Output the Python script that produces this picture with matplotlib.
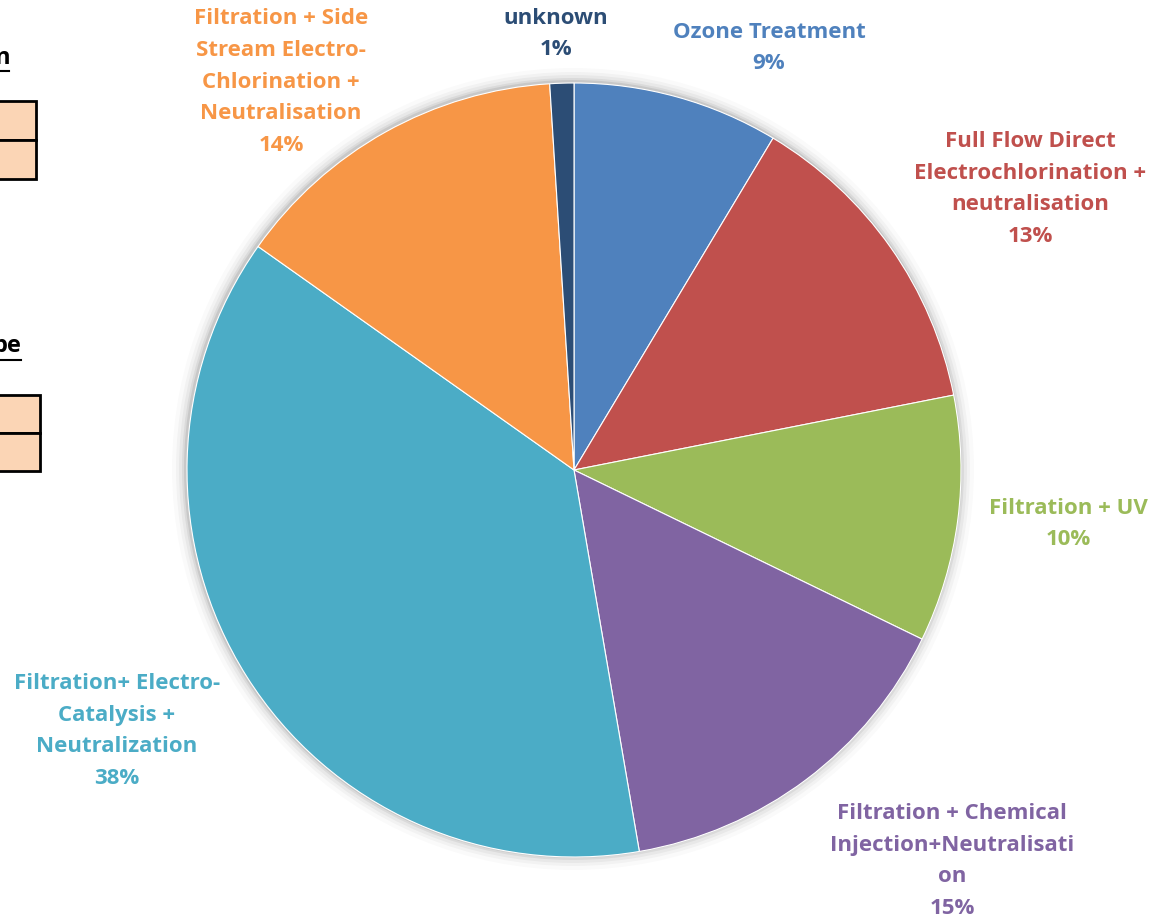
import matplotlib
matplotlib.use("Agg")
import matplotlib.pyplot as plt
from matplotlib.patches import Circle, Rectangle

categories = [
    "Ozone Treatment",
    "Full Flow Direct\nElectrochlorination +\nneutralisation",
    "Filtration + UV",
    "Filtration + Chemical\nInjection+Neutralisati\non",
    "Filtration+ Electro-\nCatalysis +\nNeutralization",
    "Filtration + Side\nStream Electro-\nChlorination +\nNeutralisation",
    "unknown",
]
values = [8.6, 13.3, 10.3, 15.1, 37.5, 14.2, 1.0]
colors = ["#4F81BD", "#C0504D", "#9BBB59", "#8064A2", "#4BACC6", "#F79646", "#2C4D75"]

W, H = 1163, 919
fig = plt.figure(figsize=(W / 100, H / 100), dpi=100)
ax = fig.add_axes([0, 0, 1, 1])

cx, cy, r = 574, H - 470, 387

# soft shadow
for k, a in [(14, 0.02), (10, 0.03), (7, 0.04), (4, 0.06), (2, 0.08)]:
    ax.add_patch(Circle((cx - 1, cy + 1), r + k, color="black", alpha=a, lw=0, zorder=0))

ax.pie(values, colors=colors, startangle=90, counterclock=False,
       center=(cx, cy), radius=r, frame=True,
       wedgeprops=dict(edgecolor="white", linewidth=0.8))
ax.set_xlim(0, W)
ax.set_ylim(0, H)
ax.set_aspect("equal")
ax.axis("off")

label_pos = [(769, 48), (1030, 189), (1068, 524), (952, 861), (117, 731), (281, 82), (556, 34)]
for cat, v, col, (x, y) in zip(categories, values, colors, label_pos):
    ax.text(x, H - y, f"{cat}\n{v:.0f}%", ha="center", va="center", color=col,
            fontsize=16, fontweight="bold", family="Open Sans", linespacing=1.68)

# partial table fragments on the left edge
fig.text(10 / W, 1 - 58 / H, "n", ha="right", va="center", fontsize=17,
         fontweight="bold", family="Open Sans", color="black")
ax.plot([0, 9], [H - 71, H - 71], color="black", lw=1.5)
for (x0, y0, w, h) in [(0, 101, 36, 39), (0, 140, 36, 39)]:
    ax.add_patch(Rectangle((x0 - 2, H - y0 - h), w + 2, h, facecolor="#FBD5B5",
                           edgecolor="black", lw=2, zorder=5))
fig.text(21 / W, 1 - 346 / H, "pe", ha="right", va="center", fontsize=17,
         fontweight="bold", family="Open Sans", color="black")
ax.plot([0, 21], [H - 360, H - 360], color="black", lw=1.5)
for (x0, y0, w, h) in [(0, 395, 40, 38), (0, 433, 40, 38)]:
    ax.add_patch(Rectangle((x0 - 2, H - y0 - h), w + 2, h, facecolor="#FBD5B5",
                           edgecolor="black", lw=2, zorder=5))

fig.savefig("out.png", dpi=100, facecolor="white")
